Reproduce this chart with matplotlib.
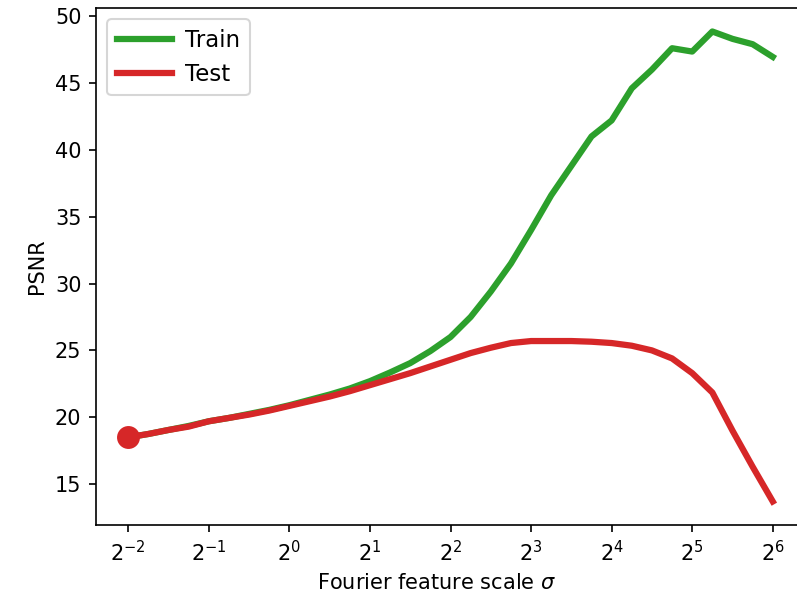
import numpy as np
import matplotlib
matplotlib.use("Agg")
import matplotlib.pyplot as plt

# Fourier feature scales: 2^-2 .. 2^6 in quarter-octave steps
log2_sigma = np.arange(-2, 6.01, 0.25)
sigma = 2.0 ** log2_sigma

train_psnr = [18.5, 18.75, 19.05, 19.35, 19.7, 19.95, 20.25, 20.55,
              20.9, 21.3, 21.7, 22.15, 22.7, 23.35, 24.05, 24.95,
              26.0, 27.5, 29.4, 31.5, 34.0, 36.6, 38.8, 41.0,
              42.2, 44.6, 46.0, 47.6, 47.35, 48.85, 48.3, 47.9, 46.95]

test_psnr = [18.5, 18.75, 19.05, 19.3, 19.7, 19.95, 20.2, 20.5,
             20.85, 21.2, 21.55, 21.95, 22.4, 22.85, 23.3, 23.8,
             24.3, 24.8, 25.2, 25.55, 25.7, 25.7, 25.7, 25.65,
             25.55, 25.35, 25.0, 24.4, 23.3, 21.85, 19.0, 16.3, 13.7]

fig = plt.figure(figsize=(797 / 150, 602 / 150), dpi=150)
ax = fig.add_axes([96 / 797, 77 / 602, 709 / 797, 517 / 602])

ax.plot(sigma, train_psnr, color="tab:green", lw=3, label="Train")
ax.plot(sigma, test_psnr, color="tab:red", lw=3, label="Test")
# current point marker at the smallest scale
ax.plot(sigma[0], test_psnr[0], "o", color="tab:red", markersize=10)

ax.set_xscale("log", base=2)
ax.set_xticks(2.0 ** np.arange(-2, 7))
ax.set_xlabel(r"Fourier feature scale $\sigma$")
ax.xaxis.set_label_coords(0.48, -0.093)
ax.set_ylabel("PSNR")
ax.legend(loc="upper left", fontsize=11, handlelength=2.4, handletextpad=0.6)

fig.savefig("out.png", dpi=150)
